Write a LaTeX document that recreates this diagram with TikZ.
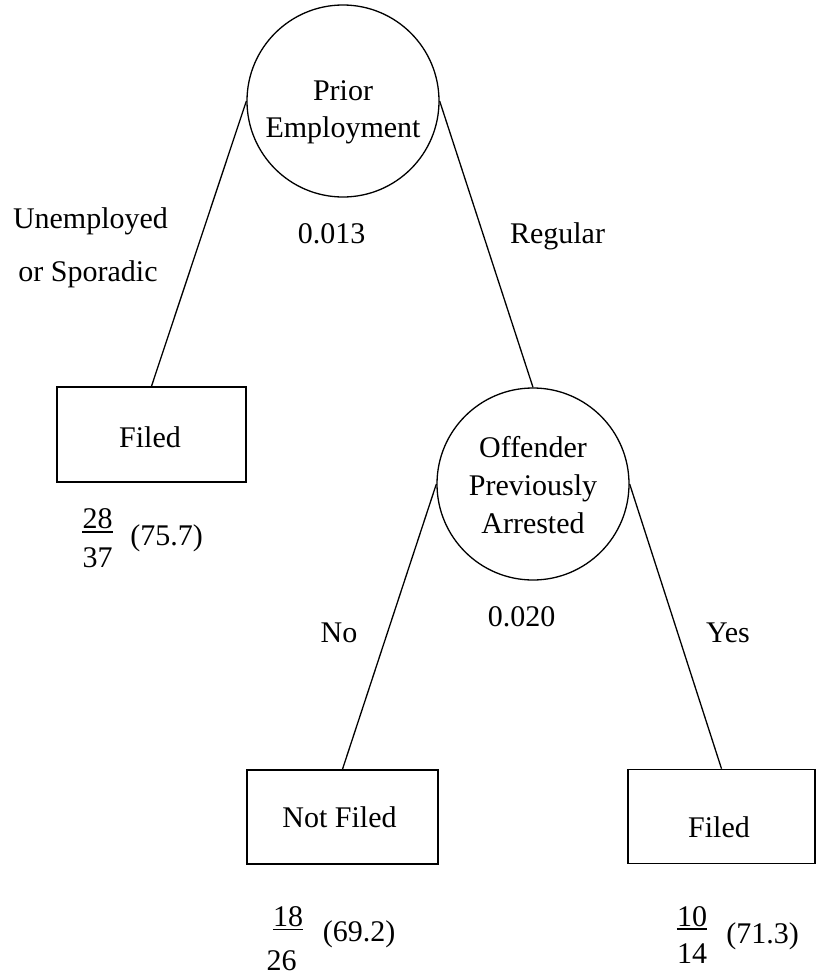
\documentclass[tikz,border=0pt]{standalone}
\usepackage{fontspec}
\setmainfont{Liberation Serif}
\begin{document}
\begin{tikzpicture}[x=1pt,y=-1pt,
  txt/.style={font=\fontsize{30}{37}\selectfont,inner sep=0pt,anchor=base},
  ctxt/.style={font=\fontsize{30}{37}\selectfont,inner sep=0pt,align=center},
  splitnode/.style={circle,draw,line width=1.3pt,minimum size=192pt,inner sep=0pt},
  leafbox/.style={rectangle,draw,line width=1.6pt,inner sep=0pt},
  edge/.style={line width=1.3pt},
  fracbar/.style={line width=1.4pt}]
\useasboundingbox (0,0) rectangle (816,977);

% split nodes
\node[splitnode] (c1) at (343,101) {};
\node[ctxt] (c1t) at (343,112) {Prior\\Employment};
\node[splitnode] (c2) at (533,484) {};
\node[ctxt,font=\fontsize{30}{38}\selectfont] (c2t) at (533,485) {Offender\\Previously\\Arrested};

% leaf boxes
\node[leafbox,minimum width=189pt,minimum height=95pt] (f1) at (151.5,434.5) {};
\node[leafbox,minimum width=191pt,minimum height=94pt] (nf) at (342.5,817) {};
\node[leafbox,minimum width=187pt,minimum height=94pt] (f2) at (721.5,816.5) {};
\node[txt] (f1t) at (150,447) {Filed};
\node[txt] (nft) at (339.5,827) {Not Filed};
\node[txt] (f2t) at (719,837) {Filed};

% connectors
\draw[edge] (c1.west) -- (f1.north);
\draw[edge] (c1.east) -- (c2.north);
\draw[edge] (c2.west) -- (nf.north);
\draw[edge] (c2.east) -- (f2.north);

% branch labels
\node[txt] (l1) at (90.5,228) {Unemployed};
\node[txt] (l2) at (88,281) {or Sporadic};
\node[txt] (p1) at (331.5,243) {0.013};
\node[txt] (l3) at (557.5,243) {Regular};
\node[txt] (l4) at (339,642) {No};
\node[txt] (p2) at (521.5,626) {0.020};
\node[txt] (l5) at (728,642) {Yes};

% fractions
\node[txt] (n1) at (97.5,528) {28};
\node[txt] (d1) at (97.5,567) {37};
\draw[fracbar] ([yshift=-4pt]n1.base west) -- ([yshift=-4pt]n1.base east);
\node[txt] (r1) at (166.5,545) {(75.7)};

\node[txt] (n2) at (288,926) {18};
\node[txt] (d2) at (281.5,970) {26};
\draw[fracbar] ([yshift=-3.5pt]n2.base west) -- ([yshift=-3.5pt]n2.base east);
\node[txt] (r2) at (359,941) {(69.2)};

\node[txt] (n3) at (692,926) {10};
\node[txt] (d3) at (692,963) {14};
\draw[fracbar] ([yshift=-3pt]n3.base west) -- ([yshift=-3pt]n3.base east);
\node[txt] (r3) at (762.5,943) {(71.3)};
\end{tikzpicture}
\end{document}
